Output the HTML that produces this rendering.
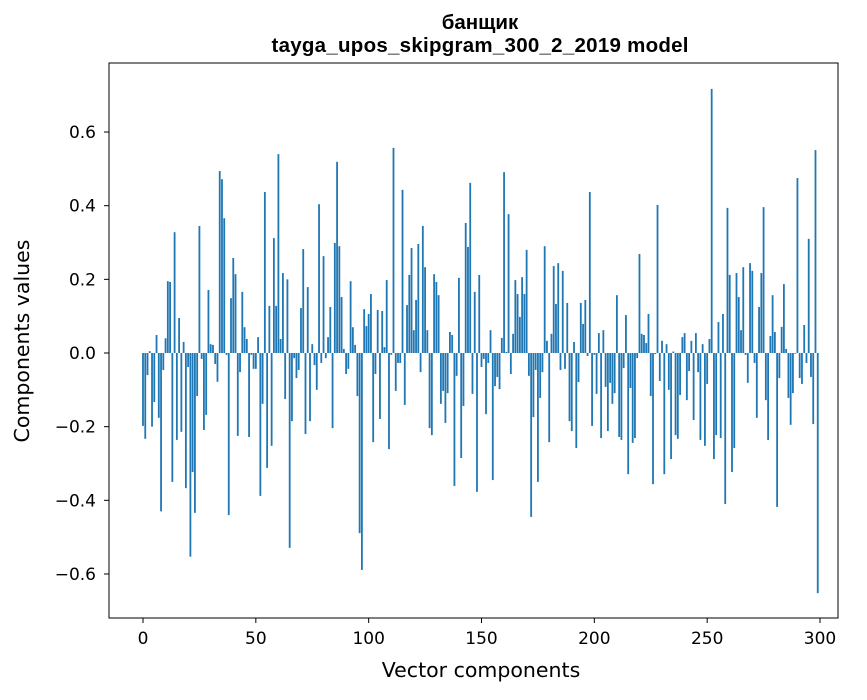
<!DOCTYPE html>
<html><head><meta charset="utf-8"><style>
body{margin:0;background:#fff;font-family:"DejaVu Sans",sans-serif;}
svg text{font-family:"DejaVu Sans","Liberation Sans",sans-serif;}
</style></head><body>
<svg id="chart" width="867" height="696" xmlns="http://www.w3.org/2000/svg">
<rect width="867" height="696" fill="#fff"/>
<text x="480" y="29" text-anchor="middle" font-size="20.5" font-weight="bold" style="font-family:'Liberation Sans',sans-serif">банщик</text>
<text x="480" y="52" text-anchor="middle" font-size="20.5" font-weight="bold" style="font-family:'Liberation Sans',sans-serif" textLength="417" lengthAdjust="spacing">tayga_upos_skipgram_300_2_2019 model</text>
<g id="bars"></g>
<g id="xticks"></g>
<g id="yticks"></g>
<rect x="109" y="63" width="729" height="555" fill="none" stroke="#000" stroke-width="1"/>
<text x="481" y="677" text-anchor="middle" font-size="20.5">Vector components</text>
<text transform="translate(29,341) rotate(-90)" text-anchor="middle" font-size="20.5">Components values</text>
</svg>
<script>
const values = [-0.198,-0.233,-0.06,0.005,-0.2,-0.133,0.049,-0.176,-0.43,-0.046,
0.04,0.195,0.193,-0.35,0.328,-0.236,0.095,-0.214,0.03,-0.367,
-0.038,-0.553,-0.323,-0.434,-0.117,0.345,-0.016,-0.209,-0.168,0.171,
0.024,0.022,-0.03,-0.078,0.494,0.472,0.366,-0.005,-0.44,0.149,
0.258,0.214,-0.225,-0.052,0.166,0.07,0.038,-0.228,-0.005,-0.043,
-0.043,0.043,-0.388,-0.138,0.437,-0.312,0.128,-0.252,0.312,0.128,
0.54,0.038,0.217,-0.125,0.2,-0.529,-0.185,-0.014,-0.068,-0.046,
0.122,0.282,-0.22,0.179,-0.185,0.024,-0.033,-0.1,0.404,-0.027,
0.263,-0.014,0.043,0.125,-0.204,0.299,0.519,0.29,0.152,0.011,
-0.057,-0.043,0.195,0.07,0.022,-0.117,-0.489,-0.589,0.119,0.073,
0.106,0.16,-0.242,-0.057,0.117,-0.179,0.114,0.016,0.198,-0.261,
-0.005,0.557,-0.103,-0.027,-0.027,0.443,-0.141,0.13,0.212,0.285,
0.062,0.144,0.296,-0.052,0.345,0.233,0.062,-0.204,-0.223,0.214,
0.193,0.157,-0.138,-0.103,-0.19,-0.109,0.057,0.049,-0.361,-0.062,
0.204,-0.285,-0.144,0.353,0.288,0.462,-0.111,0.166,-0.377,0.212,
-0.038,-0.016,-0.166,-0.027,0.062,-0.345,-0.09,-0.065,-0.098,0.041,
0.491,0.003,0.377,-0.057,0.052,0.198,0.16,0.098,0.206,0.16,
0.28,-0.062,-0.445,-0.174,-0.046,-0.35,-0.122,-0.052,0.29,0.033,
-0.242,0.052,0.236,0.133,0.244,-0.046,0.223,-0.043,0.136,-0.185,
-0.212,0.03,-0.258,-0.079,0.136,0.079,0.144,-0.008,0.437,-0.198,
-0.005,-0.111,0.054,-0.231,0.062,-0.092,-0.212,-0.081,-0.138,-0.109,
0.157,-0.228,-0.236,-0.041,0.103,-0.329,-0.095,-0.244,-0.231,-0.014,
0.269,0.052,0.049,0.027,0.106,-0.117,-0.356,-0.003,0.402,-0.076,
0.033,-0.329,0.024,-0.1,-0.288,0.004,-0.223,-0.233,-0.114,0.043,
0.054,-0.128,-0.049,0.033,-0.182,0.054,-0.052,-0.236,0.024,-0.252,
-0.084,0.038,0.717,-0.288,-0.223,0.084,-0.231,0.106,-0.41,0.394,
0.212,-0.323,-0.258,0.217,0.152,0.062,0.233,-0.005,-0.081,0.244,
0.223,-0.027,-0.176,0.125,0.217,0.396,-0.128,-0.236,0.046,0.157,
0.057,-0.418,-0.068,0.071,0.187,0.011,-0.122,-0.195,-0.109,-0.002,
0.475,-0.068,-0.084,0.076,-0.027,0.31,-0.065,-0.193,0.551,-0.652];
const xTickValues = [0,50,100,150,200,250,300];
const yTickValues = [-0.6,-0.4,-0.2,0.0,0.2,0.4,0.6];
const yTickLabels = ["\u22120.6","\u22120.4","\u22120.2","0.0","0.2","0.4","0.6"];

const NS = "http://www.w3.org/2000/svg";
function xScale(i){ return 143 + i * (677/300); }
function yScale(v){ return 353 - v * 368.3; }
const barW = 0.8 * (677/300);
const bars = document.getElementById('bars');
values.forEach((v, i) => {
  const r = document.createElementNS(NS, 'rect');
  const y0 = yScale(0), y1 = yScale(v);
  r.setAttribute('x', xScale(i) - barW/2);
  r.setAttribute('y', Math.min(y0, y1));
  r.setAttribute('width', barW);
  r.setAttribute('height', Math.max(Math.abs(y1 - y0), 0.3));
  r.setAttribute('fill', '#1f77b4');
  
  
  bars.appendChild(r);
});
const xt = document.getElementById('xticks');
xTickValues.forEach(t => {
  const x = xScale(t);
  const l = document.createElementNS(NS, 'line');
  l.setAttribute('x1', x); l.setAttribute('x2', x);
  l.setAttribute('y1', 618); l.setAttribute('y2', 623);
  l.setAttribute('stroke', '#000');
  
  
  xt.appendChild(l);
  const tx = document.createElementNS(NS, 'text');
  tx.setAttribute('x', x); tx.setAttribute('y', 644);
  tx.setAttribute('text-anchor', 'middle'); tx.setAttribute('font-size', '17');
  tx.textContent = String(t);
  
  
  xt.appendChild(tx);
});
const yt = document.getElementById('yticks');
yTickValues.forEach((t, k) => {
  const y = yScale(t);
  const l = document.createElementNS(NS, 'line');
  l.setAttribute('x1', 104); l.setAttribute('x2', 109);
  l.setAttribute('y1', y); l.setAttribute('y2', y);
  l.setAttribute('stroke', '#000');
  
  
  yt.appendChild(l);
  const tx = document.createElementNS(NS, 'text');
  tx.setAttribute('x', 96); tx.setAttribute('y', y + 6);
  tx.setAttribute('text-anchor', 'end'); tx.setAttribute('font-size', '17');
  tx.textContent = yTickLabels[k];
  
  
  yt.appendChild(tx);
});
</script>
</body></html>
